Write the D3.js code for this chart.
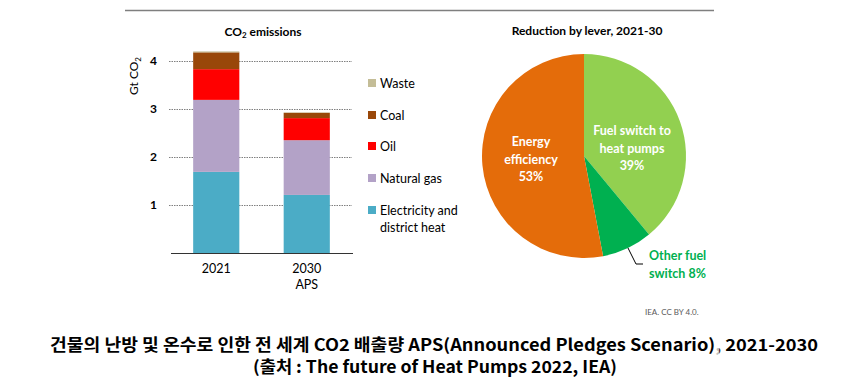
<!DOCTYPE html>
<html><head><meta charset="utf-8">
<script src="https://cdn.jsdelivr.net/npm/d3@7"></script>
<style>
html,body{margin:0;padding:0;background:#fff;}
svg{display:block;}
text{font-family:Lato,"Open Sans",sans-serif;}
</style></head>
<body>
<svg id="c" width="865" height="392"></svg>
<script>
// ---- data ----
const categories = ["2021", "2030 APS"];
const seriesNames = ["Electricity and district heat", "Natural gas", "Oil", "Coal", "Waste"];
const electricity = [1.69, 1.21];
const naturalGas = [1.50, 1.14];
const oil = [0.64, 0.46];
const coal = [0.35, 0.11];
const waste = [0.02, 0.01];
const yTicks = [1, 2, 3, 4];
const legendOrder = ["Waste", "Coal", "Oil", "Natural gas", "Electricity and district heat"];
const seriesColors = ["#4bacc6", "#b3a2c7", "#ff0000", "#994709", "#c4bd97"];

const pieLabels = ["Fuel switch to heat pumps", "Other fuel switch", "Energy efficiency"];
const pieValues = [39, 8, 53];
const pieColors = ["#92d050", "#00b050", "#e46c0a"];

const svg = d3.select("#c");

// top rule
svg.append("line").attr("x1",125).attr("x2",714).attr("y1",10.5).attr("y2",10.5)
  .attr("stroke","#7f7f7f").attr("stroke-width",1.5);

// ---- bar chart ----
const rows = categories.map((c,i)=>({cat:c, "Electricity and district heat":electricity[i], "Natural gas":naturalGas[i], "Oil":oil[i], "Coal":coal[i], "Waste":waste[i]}));
const stack = d3.stack().keys(seriesNames)(rows);
const y = d3.scaleLinear().domain([0,4]).range([253,61]);
const xb = d3.scaleBand().domain(categories).range([171,352]).paddingInner(0.49).paddingOuter(0.245);

const color = d3.scaleOrdinal().domain(seriesNames).range(seriesColors);

// gridlines
const gAxis = svg.append("g").attr("transform","translate(169,0)")
  .call(d3.axisLeft(y).tickValues(yTicks).tickSize(-183).tickFormat(d3.format("d")));
gAxis.select(".domain").remove();
gAxis.selectAll(".tick line").attr("stroke","#7f7f7f").attr("stroke-dasharray","1.5,1").attr("stroke-width",1);
gAxis.selectAll(".tick text").attr("x",-12).attr("font-size",12).attr("font-weight","bold").attr("fill","#000")
  .style("font-family","Lato,sans-serif");

// bars
svg.append("g").selectAll("g").data(stack).join("g").attr("fill",d=>color(d.key))
  .selectAll("rect").data(d=>d).join("rect")
  .attr("x",d=>xb(d.data.cat)).attr("width",xb.bandwidth())
  .attr("y",d=>y(d[1])).attr("height",d=>y(d[0])-y(d[1]));

// x axis
svg.append("line").attr("x1",171).attr("x2",353).attr("y1",253.5).attr("y2",253.5).attr("stroke","#333").attr("stroke-width",1.2);
categories.forEach(c=>{
  const parts = c.split(" ");
  const cxx = xb(c)+xb.bandwidth()/2;
  const t = svg.append("text").attr("x",cxx).attr("y",273)
    .attr("text-anchor","middle").attr("font-size",12.5).attr("fill","#000");
  parts.forEach((p,i)=>t.append("tspan").attr("x",cxx).attr("dy",i?16:0).text(p));
});

// y title
const yt = svg.append("text").attr("transform","translate(138,76) rotate(-90)").attr("text-anchor","middle")
  .attr("font-size",12).attr("fill","#000");
yt.append("tspan").text("Gt CO");
yt.append("tspan").attr("font-size",8).attr("dy",3).text("2");

// bar title
const bt = svg.append("text").attr("x",263).attr("y",36).attr("text-anchor","middle").attr("font-size",12).attr("font-weight","bold");
bt.append("tspan").text("CO");
bt.append("tspan").attr("font-size",8).attr("dy",2).text("2");
bt.append("tspan").attr("dy",-2).text(" emissions");

// legend
const legY = [83, 115, 146, 178, 210];
legendOrder.forEach((k,i)=>{
  svg.append("rect").attr("x",368).attr("y",legY[i]-4).attr("width",8).attr("height",8).attr("fill",color(k));
  const t = svg.append("text").attr("x",380).attr("y",legY[i]+4.5).attr("font-size",12.5).attr("fill","#000");
  if(k==="Electricity and district heat"){
    t.append("tspan").attr("x",380).text("Electricity and");
    t.append("tspan").attr("x",380).attr("dy",17).text("district heat");
  } else t.text(k);
});

// ---- pie ----
const cx = 584, cy = 156, r = 102;
const pie = d3.pie().sort(null).value(d=>d)(pieValues);
const arc = d3.arc().innerRadius(0).outerRadius(r);
const pg = svg.append("g").attr("transform",`translate(${cx},${cy})`);
pg.selectAll("path").data(pie).join("path").attr("d",arc).attr("fill",(d,i)=>pieColors[i]);

svg.append("text").attr("x",587).attr("y",35).attr("text-anchor","middle").attr("font-size",12).attr("font-weight","bold").text("Reduction by lever, 2021-30");

function multi(lines, xx, yy, fill, anchor){
  const t = svg.append("text").attr("x",xx).attr("y",yy).attr("text-anchor",anchor).attr("font-size",12.5)
    .attr("font-weight","bold").attr("fill",fill);
  lines.forEach((l,i)=>t.append("tspan").attr("x",xx).attr("dy",i?17.5:0).text(l));
}
multi(["Fuel switch to","heat pumps", pieValues[0]+"%"], 632, 135, "#fff", "middle");
multi(["Energy","efficiency", pieValues[2]+"%"], 531, 146, "#fff", "middle");
multi(["Other fuel","switch "+pieValues[1]+"%"], 649, 260, "#00b050", "start");

svg.append("polyline").attr("points","628,248 636,264 643,264").attr("fill","none").attr("stroke","#000").attr("stroke-width",1);

svg.append("text").attr("x",645).attr("y",315).attr("font-size",8).attr("fill","#595959").text("IEA. CC BY 4.0.");

// caption
svg.append("text").attr("x",434).attr("y",351).attr("text-anchor","middle").attr("font-size",16.5).attr("font-weight","bold")
  .style("font-family","'Noto Sans CJK KR',sans-serif").attr("textLength",768).attr("lengthAdjust","spacingAndGlyphs")
  .text("건물의 난방 및 온수로 인한 전 세계 CO2 배출량 APS(Announced Pledges Scenario), 2021-2030");
svg.append("text").attr("x",435).attr("y",373).attr("text-anchor","middle").attr("font-size",16.5).attr("font-weight","bold")
  .style("font-family","'Noto Sans CJK KR',sans-serif").attr("textLength",364).attr("lengthAdjust","spacingAndGlyphs")
  .text("(출처 : The future of Heat Pumps 2022, IEA)");

// watermark
svg.append("text").attr("x",712).attr("y",370).attr("font-size",30).attr("fill","#fff").attr("fill-opacity",0.75)
  .style("font-family","'Noto Sans',sans-serif").attr("textLength",100).attr("lengthAdjust","spacingAndGlyphs").text("knun");
svg.append("text").attr("x",826).attr("y",363).attr("font-size",13).attr("fill","#fff").attr("fill-opacity",0.8)
  .style("font-family","'Noto Sans CJK KR',sans-serif").text("칸");
</script>
</body></html>
